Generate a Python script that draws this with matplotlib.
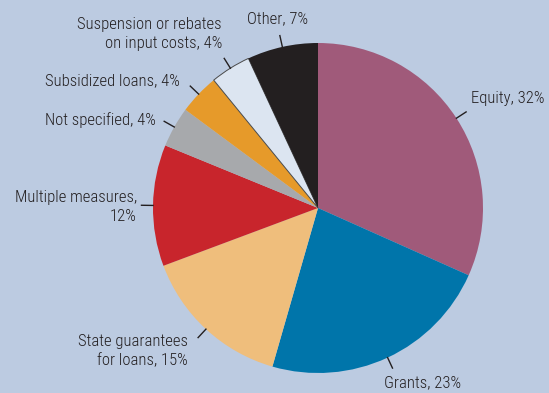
import numpy as np
import matplotlib
matplotlib.use("Agg")
import matplotlib.pyplot as plt

# datos
etiquetas = ["Equity, 32%", "Grants, 23%", "State guarantees\nfor loans, 15%",
             "Multiple measures,\n12%", "Not specified, 4%", "Subsidized loans, 4%",
             "Suspension or rebates\non input costs, 4%", "Other, 7%"]
valores = [32, 23, 15, 12, 4, 4, 4, 7]
colores = ["#a05a7a", "#0075aa", "#efbe7c", "#c8252c", "#a7a9ac", "#e69a2a",
           "#dce5f1", "#231f20"]

# posiciones de texto en pixeles (x, y, alineacion)
pos_texto = [(471, 99, "left"), (384, 383, "left"), (188, 351, "right"),
             (137, 207, "right"), (156, 120, "right"), (180, 81, "right"),
             (222, 34, "right"), (247, 19, "left")]

fondo = "#bccbe1"
cx, cy, R = 318, 208, 165  # centro y radio en pixeles

def a_datos(px, py):
    return (px - cx) / R, (cy - py) / R

fig = plt.figure(figsize=(5.49, 3.93), dpi=100)
fig.patch.set_facecolor(fondo)
ax = fig.add_axes([0, 0, 1, 1])
ax.set_facecolor(fondo)

cunas, _ = ax.pie(valores, colors=colores, startangle=90, counterclock=False,
                  radius=1, wedgeprops=dict(linewidth=0))
cunas[6].set_edgecolor("#4a4a4a")
cunas[6].set_linewidth(0.7)

fuente = ["Roboto Condensed", "DejaVu Sans"]
for cuna, txt, (px, py, ha) in zip(cunas, etiquetas, pos_texto):
    ang = np.deg2rad((cuna.theta1 + cuna.theta2) / 2)
    ax.plot([1.0 * np.cos(ang), 1.07 * np.cos(ang)],
            [1.0 * np.sin(ang), 1.07 * np.sin(ang)], color="#231f20", lw=1)
    x, y = a_datos(px, py)
    ax.text(x, y, txt, ha=ha, va="center", multialignment=ha,
            fontsize=12, fontweight="light", color="#231f20", family=fuente,
            linespacing=1.3)

ax.set_xlim(a_datos(0, 0)[0], a_datos(549, 0)[0])
ax.set_ylim(a_datos(0, 393)[1], a_datos(0, 0)[1])
ax.set_aspect("equal")
ax.axis("off")

fig.savefig("out.png", dpi=100, facecolor=fondo)
